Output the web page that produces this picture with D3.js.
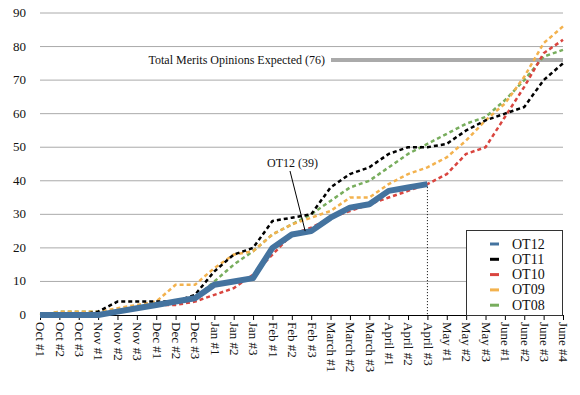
<!DOCTYPE html>
<html lang="en">
<head>
<meta charset="utf-8">
<title>Merits Opinions</title>
<script src="https://d3js.org/d3.v7.min.js"></script>
<style>
  body { margin: 0; background: #fff; }
</style>
</head>
<body>
<div id="chart"></div>
<script>
// Categories (weeks of the term)
const weeks = [
  "Oct #1","Oct #2","Oct #3","Nov #1","Nov #2","Nov #3","Dec #1","Dec #2","Dec #3",
  "Jan #1","Jan #2","Jan #3","Feb #1","Feb #2","Feb #3","March #1","March #2","March #3",
  "April #1","April #2","April #3","May #1","May #2","May #3","June #1","June #2","June #3","June #4"
];
const yTicks = [0, 10, 20, 30, 40, 50, 60, 70, 80, 90];

// Cumulative merits opinions per term
const ot12 = [0,0,0,0,1,2,3,4,5,9,10,11,20,24,25,29,32,33,37,38,39];
const ot11 = [0,0,0,1,4,4,4,4,6,13,18,20,28,29,30,38,42,44,48,50,50,51,55,58,60,62,70,75];
const ot10 = [0,0,0,0,1,2,3,3,4,6,8,12,18,24,26,29,31,33,35,37,39,42,48,50,59,68,78,82];
const ot09 = [0,1,1,1,2,3,4,9,9,14,18,19,24,27,29,31,35,35,39,42,44,47,52,58,63,71,81,86];
const ot08 = [0,1,1,1,1,2,3,4,5,10,15,19,24,27,30,34,38,40,44,48,51,54,57,59,64,70,77,79];

const expectedTotal = 76;
const current = { label: "OT12 (39)", week: "April #3", value: 39, pointWeek: "Feb #3", pointValue: 25 };

const series = [
  { name: "OT08", values: ot08, color: "#78ad5d", dashed: true },
  { name: "OT09", values: ot09, color: "#f3b24e", dashed: true },
  { name: "OT10", values: ot10, color: "#d9453f", dashed: true },
  { name: "OT11", values: ot11, color: "#000000", dashed: true },
  { name: "OT12", values: ot12, color: "#44739f", dashed: false }
];
const legendOrder = ["OT12", "OT11", "OT10", "OT09", "OT08"];

const FONT = "'Liberation Serif', 'Times New Roman', Times, serif";

const width = 580, height = 395;
const margin = { top: 13, right: 17, bottom: 80, left: 40 };

const svg = d3.select("#chart").append("svg")
  .attr("width", width).attr("height", height)
  .style("font-family", FONT);

const x = d3.scalePoint().domain(weeks).range([margin.left, width - margin.right]);
const y = d3.scaleLinear().domain([0, 90]).range([height - margin.bottom, margin.top]);

// gridlines
svg.append("g").selectAll("line").data(yTicks.filter(d => d > 0)).join("line")
  .attr("x1", margin.left).attr("x2", width - margin.right)
  .attr("y1", d => y(d)).attr("y2", d => y(d))
  .attr("stroke", "#aaa").attr("stroke-width", 1);

// y labels
svg.append("g").selectAll("text").data(yTicks).join("text")
  .attr("x", 26).attr("y", d => y(d) + 4)
  .attr("text-anchor", "end")
  .style("font-family", FONT).style("font-size", "13px").attr("fill", "#111")
  .text(d => d);

// x axis
const xAxis = d3.axisBottom(x).tickSize(5).tickSizeOuter(0);
const gx = svg.append("g").attr("transform", `translate(0,${y(0)})`).call(xAxis);
gx.attr("font-family", null);
gx.select(".domain").attr("stroke", "#000");
gx.selectAll(".tick line").attr("stroke", "#000");
gx.selectAll(".tick text")
  .style("font-family", FONT).style("font-size", "13px").attr("fill", "#111")
  .attr("text-anchor", "start")
  .attr("transform", "rotate(90)")
  .attr("x", 7).attr("y", 0).attr("dy", "0.32em");

// expected total line and label
svg.append("line")
  .attr("x1", 331).attr("x2", width - margin.right)
  .attr("y1", y(expectedTotal)).attr("y2", y(expectedTotal))
  .attr("stroke", "#aaa").attr("stroke-width", 4);
svg.append("text")
  .attr("x", 325).attr("y", y(expectedTotal) + 4)
  .attr("text-anchor", "end")
  .style("font-family", FONT).style("font-size", "12px").attr("fill", "#111")
  .text(`Total Merits Opinions Expected (${expectedTotal})`);

// series lines
const line = d3.line().x((d, i) => x(weeks[i])).y(d => y(d));
series.forEach(s => {
  svg.append("path").datum(s.values)
    .attr("d", line)
    .attr("fill", "none")
    .attr("stroke", s.color)
    .attr("stroke-width", s.dashed ? 2.5 : 6)
    .attr("stroke-linejoin", "round")
    .attr("stroke-dasharray", s.dashed ? "4,3" : null);
});

// dotted drop line at current week
svg.append("line")
  .attr("x1", x(current.week)).attr("x2", x(current.week))
  .attr("y1", y(current.value) + 3).attr("y2", y(0))
  .attr("stroke", "#000").attr("stroke-width", 1).attr("stroke-dasharray", "1,2");

// OT12 annotation
svg.append("line")
  .attr("x1", 290).attr("y1", 171)
  .attr("x2", x(current.pointWeek) - 6).attr("y2", y(current.pointValue))
  .attr("stroke", "#000").attr("stroke-width", 1);
svg.append("text")
  .attr("x", 267).attr("y", 167)
  .style("font-family", FONT).style("font-size", "12px").attr("fill", "#111")
  .text(current.label);

// legend
const lg = svg.append("g");
lg.append("rect")
  .attr("x", 466.5).attr("y", 230.5).attr("width", 96).attr("height", 85)
  .attr("fill", "#fff").attr("stroke", "#333").attr("stroke-width", 1);
legendOrder.forEach((name, i) => {
  const s = series.find(d => d.name === name);
  const ly = 244 + i * 15.3;
  lg.append("line")
    .attr("x1", 490).attr("x2", 499).attr("y1", ly).attr("y2", ly)
    .attr("stroke", s.color).attr("stroke-width", 3);
  lg.append("text")
    .attr("x", 512).attr("y", ly + 4.5)
    .style("font-family", FONT).style("font-size", "14px").attr("fill", "#111")
    .text(name);
});
</script>
</body>
</html>
